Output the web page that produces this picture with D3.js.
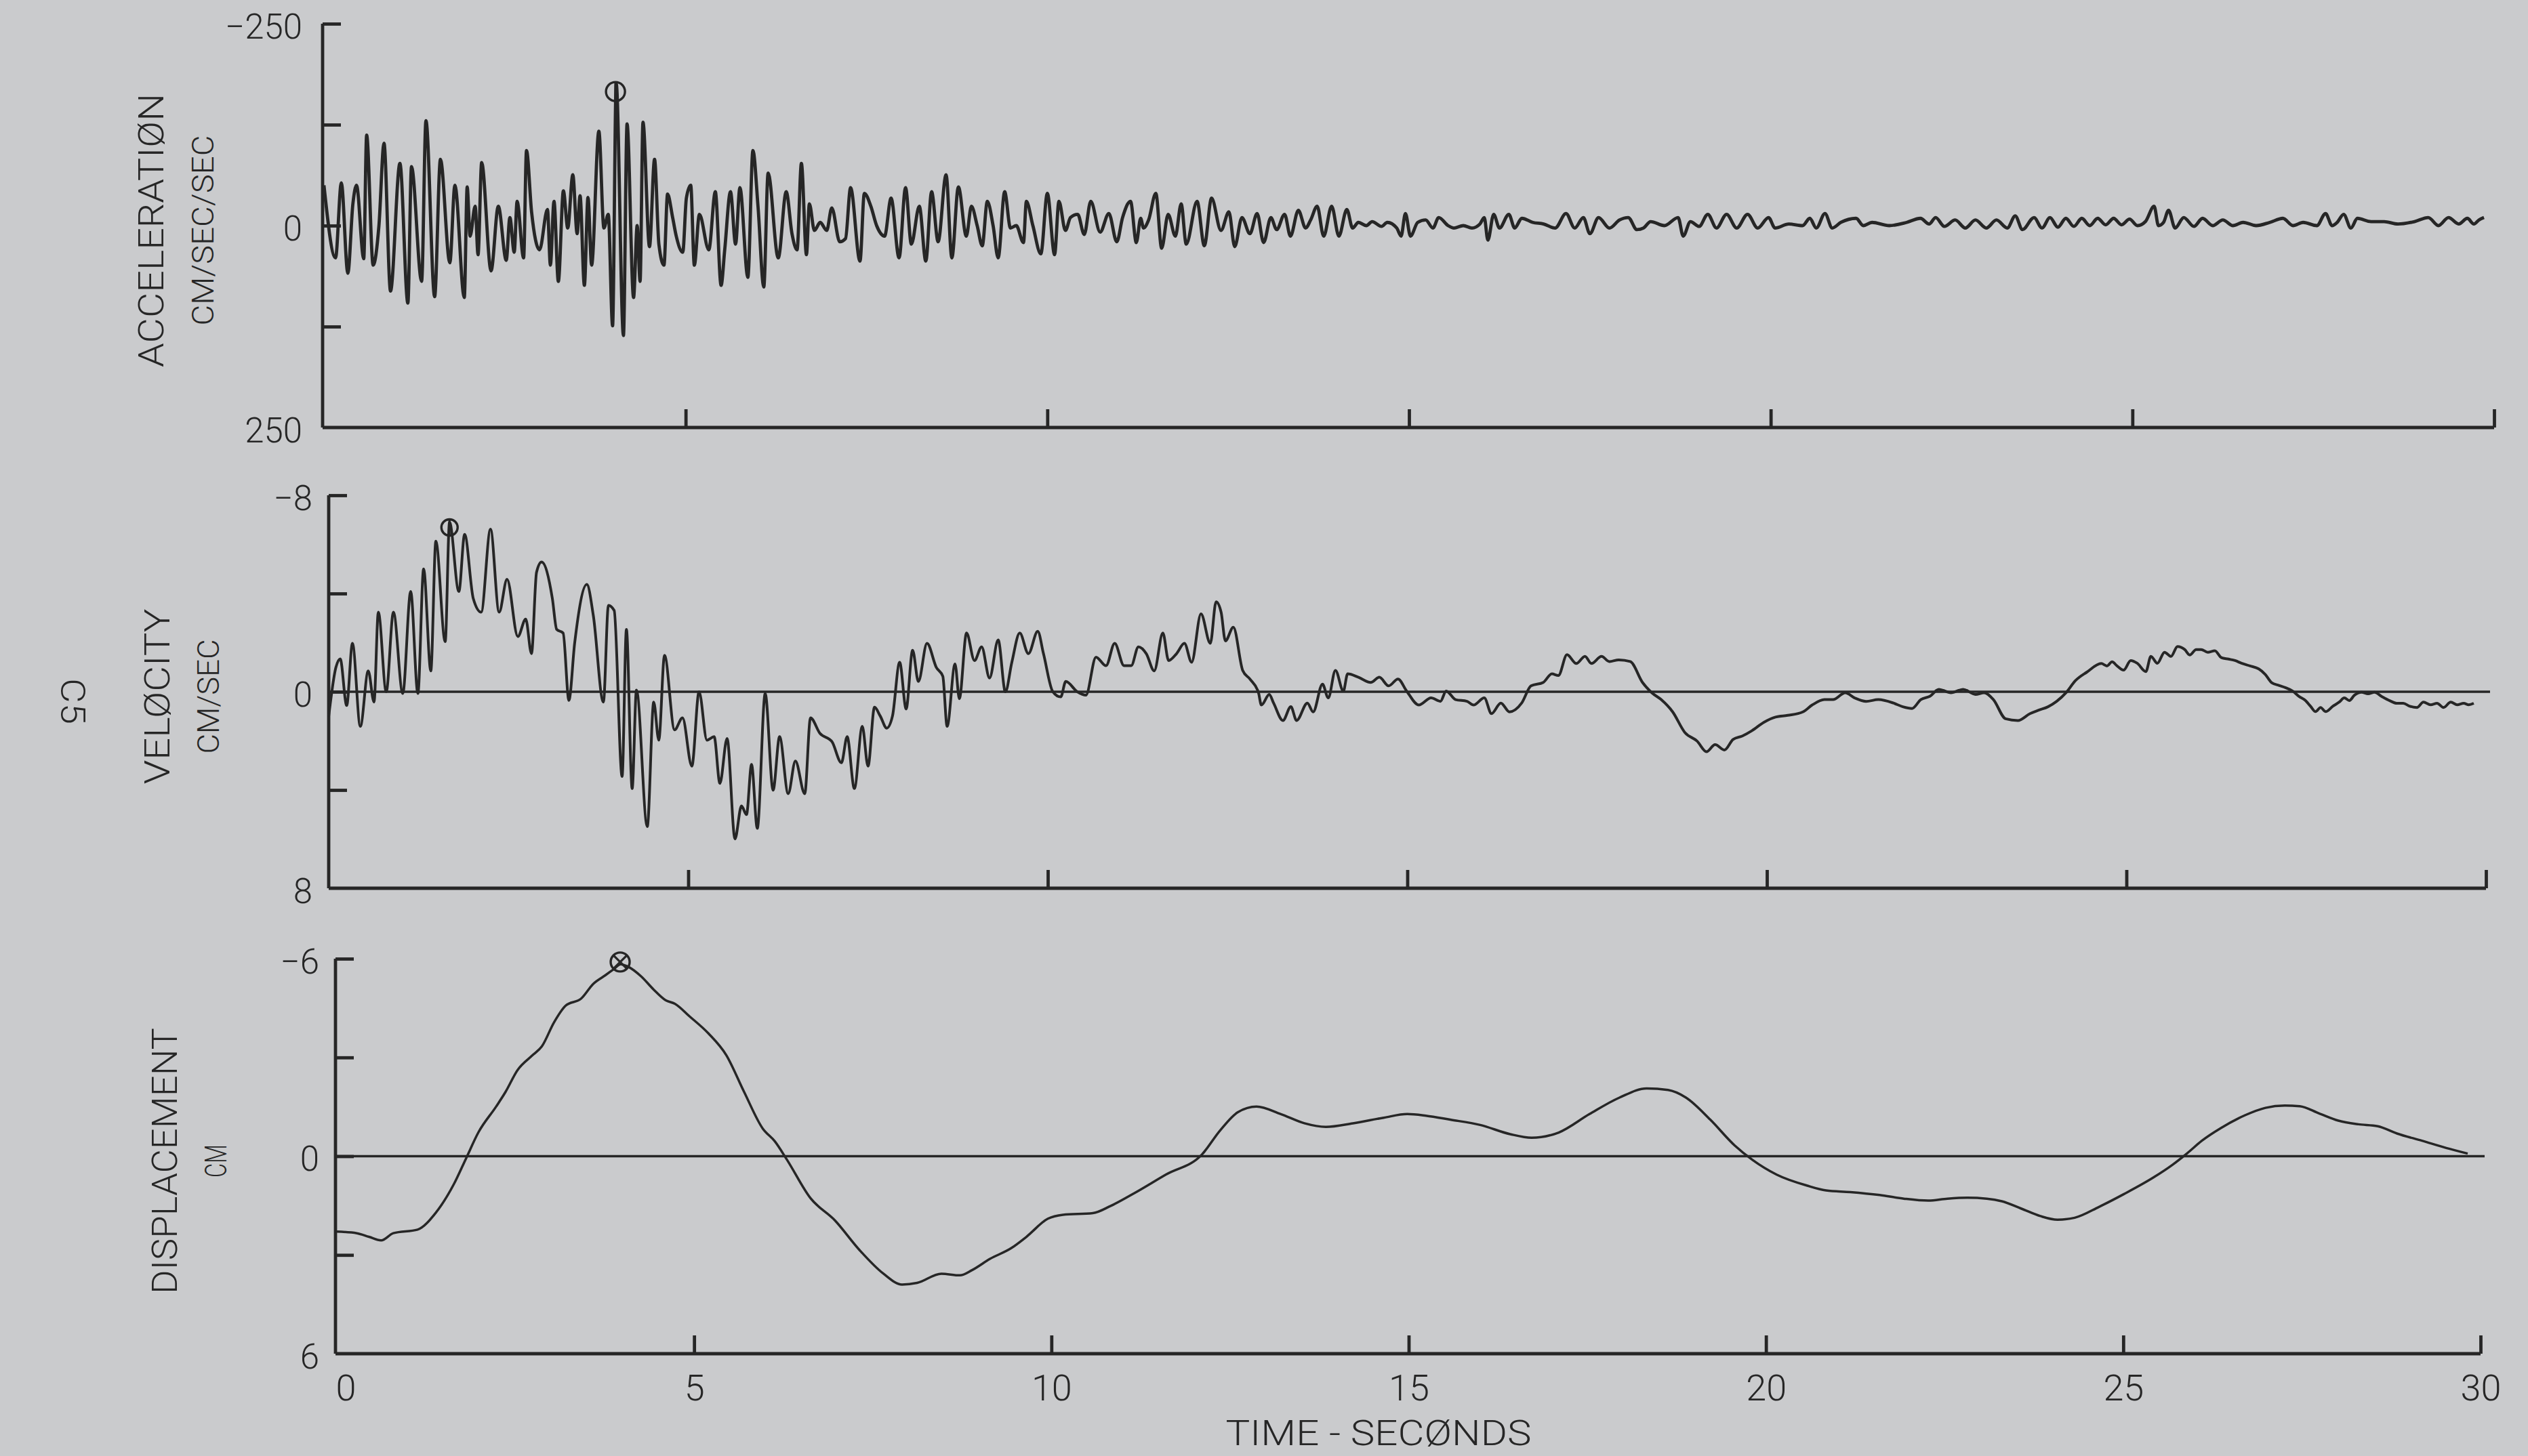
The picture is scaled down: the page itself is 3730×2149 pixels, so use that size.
<!DOCTYPE html>
<html>
<head>
<meta charset="utf-8">
<script src="https://cdn.jsdelivr.net/npm/d3@7"></script>
<style>
  html, body { margin: 0; padding: 0; background: #cacbcd; }
  svg { display: block; }
  text { font-family: Roboto, "DejaVu Sans", sans-serif; font-weight: 300; fill: #262626; }
</style>
</head>
<body>
<script>
// ---------------- DATA ----------------
const timeTicks = [0, 5, 10, 15, 20, 25, 30];
const accelTicks = [-250, -125, 0, 125, 250];
const accelLabels = [-250, 0, 250];
const velTicks = [-8, -4, 0, 4, 8];
const velLabels = [-8, 0, 8];
const dispTicks = [-6, -3, 0, 3, 6];
const dispLabels = [-6, 0, 6];

// [time s, acceleration cm/s/s]  (negative plotted upward)
const accel = [
[0.00,-50],[0.16,40],[0.24,-53],[0.33,59],[0.40,-27],[0.45,-50],[0.55,41],[0.59,-112],[0.68,49],[0.76,0],
[0.83,-102],[0.92,81],[1.05,-77],[1.16,96],[1.21,-73],[1.35,69],[1.41,-130],[1.53,88],[1.61,-82],[1.74,46],
[1.81,-50],[1.94,89],[1.98,-48],[2.02,13],[2.09,-24],[2.13,36],[2.18,-78],[2.31,56],[2.41,-24],[2.52,43],
[2.57,-10],[2.63,33],[2.67,-30],[2.76,40],[2.80,-93],[2.87,-17],[2.98,30],[3.09,-20],[3.13,49],[3.18,-30],
[3.24,69],[3.31,-43],[3.37,3],[3.44,-63],[3.50,10],[3.54,-37],[3.60,74],[3.65,-35],[3.70,49],[3.80,-117],
[3.87,3],[3.93,-14],[3.99,124],[4.04,-176],[4.14,136],[4.19,-126],[4.28,89],[4.33,0],[4.37,69],[4.41,-128],
[4.50,26],[4.57,-82],[4.63,23],[4.70,49],[4.75,-39],[4.82,-10],[4.87,13],[4.96,33],[5.01,-34],[5.07,-50],
[5.12,49],[5.19,-14],[5.32,30],[5.41,-42],
[5.49,74],[5.54,30],[5.62,-42],[5.69,23],[5.75,-47],[5.86,64],[5.93,-93],[6.00,-24],[6.08,76],[6.14,-65],
[6.28,40],[6.39,-42],[6.47,10],[6.54,30],[6.60,-77],[6.67,36],[6.71,-27],[6.78,6],[6.86,-4],[6.95,6],
[7.02,-22],[7.13,20],[7.21,16],[7.28,-47],[7.41,44],[7.47,-40],[7.56,-24],[7.64,0],[7.75,13],[7.84,-34],
[7.95,40],[8.04,-47],[8.12,23],[8.23,-24],[8.32,44],[8.40,-42],[8.49,20],[8.60,-63],[8.68,40],[8.77,-48],
[8.88,13],[8.95,-24],[9.03,0],[9.10,25],[9.17,-30],[9.25,0],[9.32,40],[9.41,-42],[9.49,3],[9.57,0],
[9.67,21],[9.71,-30],[9.80,0],[9.91,35],[10.00,-40],[10.10,36],[10.16,-30],[10.25,6],[10.32,-10],[10.42,-14],
[10.51,11],[10.60,-30],
[10.73,8],[10.85,-15],[10.96,20],[11.04,-10],[11.15,-30],[11.23,21],[11.29,-9],[11.33,3],[11.40,-7],[11.50,-40],
[11.58,28],[11.67,-14],[11.77,13],[11.85,-27],[11.92,23],[12.07,-30],[12.17,25],[12.27,-34],[12.40,6],[12.51,-17],
[12.59,26],[12.69,-10],[12.80,10],[12.90,-15],[12.99,21],[13.09,-10],[13.17,5],[13.28,-14],[13.36,13],[13.47,-19],
[13.57,3],[13.64,-7],[13.73,-24],[13.82,13],[13.93,-24],[14.03,13],[14.14,-20],[14.22,3],[14.30,-4],[14.41,0],
[14.49,-5],[14.62,1],[14.70,-4],[14.83,3],[14.89,13],[14.95,-15],[15.02,13],[15.12,-4],[15.23,-7],[15.33,3],
[15.41,-10],[15.54,0],[15.62,3],[15.75,0],[15.87,3],[15.98,-2],[16.04,-10],[16.09,18],[16.17,-14],[16.25,3],
[16.38,-14],[16.46,3],[16.56,-9],
[16.71,-4],[16.86,-2],[17.02,3],[17.17,-15],[17.29,3],[17.41,-10],[17.50,10],[17.62,-10],[17.77,3],[17.91,-7],
[18.03,-10],[18.15,5],[18.24,3],[18.34,-5],[18.53,0],[18.72,-10],[18.79,13],[18.89,-5],[19.01,1],[19.13,-14],
[19.25,3],[19.39,-14],[19.53,3],[19.68,-14],[19.82,3],[19.97,-10],[20.06,3],[20.25,-2],[20.44,0],[20.54,-9],
[20.63,3],[20.75,-15],[20.85,3],[20.97,-4],[21.18,-9],[21.28,0],[21.40,-4],[21.64,0],[21.88,-4],[22.07,-9],
[22.19,-2],[22.28,-10],[22.40,1],[22.55,-7],[22.69,3],[22.83,-7],[22.98,3],[23.12,-7],[23.27,3],[23.38,-12],
[23.48,5],[23.64,-10],
[23.75,3],[23.86,-10],[23.97,2],[24.08,-9],[24.19,1],[24.30,-9],[24.41,0],[24.52,-9],[24.63,-1],[24.74,-9],
[24.85,-1],[24.96,-8],[25.07,0],[25.18,-5],[25.30,-24],[25.36,0],[25.43,-4],[25.50,-19],[25.59,3],[25.71,-10],
[25.85,1],[25.97,-9],[26.11,0],[26.25,-7],[26.39,0],[26.53,-4],[26.71,0],[26.90,-4],[27.08,-9],[27.22,0],
[27.36,-4],[27.55,0],[27.67,-15],[27.76,0],[27.83,-4],[27.92,-14],[28.02,3],[28.11,-9],[28.30,-5],[28.48,-5],
[28.67,-2],[28.90,-5],[29.09,-10],[29.23,0],[29.37,-10],[29.51,-2],[29.63,-9],[29.72,-2],[29.79,-7],[29.86,-10]
];

// [time s, velocity cm/s]
const velocity = [
[0.00,1.0],[0.10,-0.99],[0.16,-1.34],[0.25,0.56],[0.33,-1.97],[0.44,1.41],[0.55,-0.85],[0.63,0.42],[0.69,-3.24],[0.80,0],
[0.90,-3.24],[1.03,0.07],[1.14,-4.08],[1.24,0.07],[1.32,-5.00],[1.42,-0.85],[1.49,-6.13],[1.62,-2.04],[1.68,-6.9],[1.81,-4.08],
[1.89,-6.41],[2.01,-3.80],[2.12,-3.24],[2.25,-6.62],[2.37,-3.24],[2.48,-4.58],[2.63,-2.25],[2.74,-2.96],[2.82,-1.55],[2.89,-4.86],
[2.96,-5.28],[3.11,-3.80],[3.17,-2.54],[3.26,-2.39],[3.34,0.35],[3.42,-1.97],[3.59,-4.37],[3.68,-3.10],[3.82,0.42],[3.89,-3.52],
[3.97,-3.31],[4.08,3.45],[4.14,-2.54],[4.22,3.94],[4.28,-0.07],[4.43,5.49],[4.52,0.42],[4.59,1.97],[4.67,-1.48],[4.81,1.55],
[4.92,1.06],[5.05,3.03],[5.15,0],[5.26,1.97],[5.36,1.83],[5.44,3.73],[5.54,1.90],[5.65,5.99],[5.74,4.65],[5.81,5.00],
[5.88,2.96],[5.96,5.56],[6.07,0.07],[6.18,4.01],[6.27,1.83],[6.39,4.15],[6.49,2.82],[6.62,4.15],[6.70,1.06],[6.83,1.69],
[7.00,2.04],[7.13,2.89],[7.21,1.83],[7.31,3.94],[7.42,1.41],[7.50,3.03],[7.59,0.63],[7.67,0.99],[7.76,1.48],[7.84,0.99],
[7.94,-1.20],[8.03,0.70],[8.12,-1.69],[8.20,-0.42],[8.32,-1.97],[8.45,-0.99],[8.54,-0.63],[8.60,1.41],[8.71,-1.13],[8.77,0.28],
[8.87,-2.39],[8.98,-1.27],[9.08,-1.83],[9.19,-0.56],[9.31,-2.11],[9.41,0],[9.50,-1.20],[9.61,-2.39],[9.73,-1.55],[9.86,-2.46],
[9.94,-1.55],[10.07,0],[10.18,0.21],[10.25,-0.42],[10.41,0],[10.53,0.14],[10.67,-1.41],[10.81,-1.06],[10.93,-1.97],[11.06,-1.06],
[11.16,-1.06],[11.26,-1.83],[11.37,-1.55],[11.48,-0.85],[11.60,-2.39],[11.68,-1.27],[11.79,-1.55],[11.90,-1.97],[12.00,-1.20],[12.13,-3.17],
[12.26,-1.97],[12.34,-3.66],[12.41,-3.24],
[12.47,-2.07],[12.58,-2.63],[12.71,-0.87],[12.81,-0.52],[12.93,0.04],[12.97,0.54],[13.08,0.11],[13.14,0.46],[13.27,1.17],[13.38,0.61],
[13.46,1.17],[13.61,0.46],[13.69,0.82],[13.82,-0.31],[13.90,0.25],[14.00,-0.87],[14.11,-0.03],[14.17,-0.73],[14.32,-0.59],[14.49,-0.38],
[14.61,-0.59],[14.74,-0.24],[14.87,-0.52],[14.99,-0.03],[15.16,0.54],[15.33,0.25],[15.46,0.39],[15.54,-0.03],[15.67,0.32],[15.83,0.39],
[15.92,0.54],[16.07,0.25],[16.17,0.89],[16.30,0.46],[16.42,0.82],[16.59,0.46],[16.72,-0.24],[16.89,-0.38],[17.01,-0.73],[17.10,-0.66],
[17.22,-1.51],[17.35,-1.15],[17.47,-1.44],[17.56,-1.15],[17.70,-1.44],[17.81,-1.23],[17.94,-1.30],[18.10,-1.23],[18.27,-0.38],[18.40,0.04],
[18.53,0.32],[18.69,0.82],[18.86,1.66],[19.03,2.01],[19.16,2.44],[19.28,2.15],[19.41,2.37],[19.53,1.94],[19.66,1.80],[19.79,1.59],
[19.96,1.24],[20.12,1.03],[20.29,0.96],[20.50,0.82],[20.63,0.54],[20.80,0.32],[20.92,0.32],[21.09,0.04],[21.22,0.25],[21.38,0.39],
[21.55,0.32],[21.76,0.46],[21.89,0.61],[22.02,0.68],[22.14,0.32],[22.27,0.18],[22.39,-0.10],[22.56,0.04],[22.73,-0.10],[22.90,0.11],
[23.02,0.04],[23.15,0.32],[23.32,1.10],[23.49,1.17],[23.66,0.89],[23.78,0.75],[23.91,0.61],[24.03,0.39],[24.16,0.04],[24.29,-0.45],
[24.45,-0.80],[24.65,-1.15],
[24.73,-1.05],[24.80,-1.22],[24.87,-1.05],[24.96,-0.88],[25.06,-1.27],[25.15,-1.16],[25.27,-0.82],[25.34,-1.44],[25.43,-1.16],[25.53,-1.61],
[25.62,-1.44],[25.71,-1.84],[25.81,-1.72],[25.88,-1.50],[25.97,-1.72],[26.04,-1.72],[26.13,-1.61],[26.23,-1.67],[26.32,-1.39],[26.42,-1.33],
[26.51,-1.27],[26.60,-1.16],[26.72,-1.05],[26.84,-0.93],[26.93,-0.71],[27.02,-0.37],[27.12,-0.26],[27.21,-0.17],[27.31,-0.03],[27.40,0.19],
[27.49,0.36],[27.56,0.59],[27.63,0.81],[27.70,0.64],[27.77,0.81],[27.87,0.59],[27.96,0.42],[28.03,0.25],[28.10,0.36],[28.17,0.14],
[28.27,0.02],[28.36,0.08],[28.45,0.02],[28.55,0.19],[28.66,0.36],[28.76,0.47],[28.85,0.47],[28.94,0.59],[29.04,0.64],[29.13,0.42],
[29.23,0.53],[29.32,0.47],[29.41,0.64],[29.51,0.42],[29.60,0.53],[29.69,0.47],[29.76,0.53],[29.83,0.47]
];

// [time s, displacement cm]
const displacement = [
[0.00,2.29],[0.28,2.34],[0.45,2.45],[0.62,2.56],[0.79,2.34],[1.13,2.23],[1.38,1.73],[1.64,0.84],[1.81,0.06],[1.98,-0.72],
[2.23,-1.51],[2.36,-1.95],[2.53,-2.62],[2.74,-3.07],[2.87,-3.34],[3.04,-4.07],[3.20,-4.57],[3.42,-4.79],[3.59,-5.24],[3.76,-5.50],
[3.88,-5.69],[3.97,-5.83],[4.09,-5.74],[4.26,-5.46],[4.43,-5.07],[4.60,-4.74],[4.73,-4.63],[4.94,-4.24],[5.20,-3.73],[5.45,-3.07],
[5.70,-1.95],[5.96,-0.84],[6.13,-0.45],[6.30,0.11],[6.63,1.28],[6.97,1.95],[7.31,2.84],[7.65,3.57],[7.91,3.90],[8.12,3.85],
[8.46,3.57],[8.72,3.62],[8.89,3.46],[9.14,3.12],[9.44,2.79],[9.65,2.45],[9.95,1.90],[10.16,1.78],[10.58,1.73],[10.83,1.51],
[11.17,1.11],[11.60,0.56],[12.11,-0.06],[12.36,-0.78],[12.61,-1.34],[12.87,-1.51],[13.21,-1.28],[13.54,-1.00],[13.84,-0.89],[14.22,-1.00],
[14.65,-1.17],[14.98,-1.28],[15.24,-1.23],[15.58,-1.11],[16.00,-0.95],[16.42,-0.67],[16.72,-0.56],[17.10,-0.72],[17.53,-1.28],[17.95,-1.78],
[18.33,-2.06],[18.63,-2.01],[18.88,-1.78],[19.22,-1.11],[19.56,-0.33],[19.81,0.11],[20.15,0.56],[20.57,0.89],[20.84,1.04],[21.18,1.09],
[21.59,1.18],[21.93,1.29],[22.27,1.35],[22.54,1.29],[22.82,1.26],[23.09,1.29],[23.30,1.37],[23.57,1.59],[23.84,1.82],[24.08,1.93],
[24.32,1.87],[24.66,1.54],[25.01,1.15],[25.42,0.65],[25.69,0.26],[25.89,-0.08],[26.10,-0.47],[26.37,-0.86],[26.71,-1.25],[26.99,-1.47],
[27.26,-1.54],[27.47,-1.52],[27.74,-1.30],[28.01,-1.08],[28.29,-0.97],[28.56,-0.91],[28.83,-0.69],[29.18,-0.47],[29.52,-0.25],[29.82,-0.08]
];

// peak markers [time, value]
const accelPeak = [4.03, -166];
const velPeak = [1.68, -6.69];
const dispPeak = [3.965, -5.9];

// ---------------- DRAWING ----------------
const W = 3730, H = 2149;
const INK = "#262626";
const svg = d3.select("body").append("svg").attr("width", W).attr("height", H);
svg.append("rect").attr("width", W).attr("height", H).attr("fill", "#cacbcd");

const panels = [
  { data: accel, ticks: accelTicks, labels: accelLabels, peak: accelPeak, mark: "phi",
    x: d3.scaleLinear().domain([0, 30]).range([478, 3680]),
    y: d3.scaleLinear().domain([-250, 250]).range([35, 631]),
    ax: 476, zero: false, lw: 4.8, pad: 30,
    title: "ACCELERATIØN", unit: "CM/SEC/SEC", tx: 223, ux: 300, tlen: 404, ulen: 281 },
  { data: velocity, ticks: velTicks, labels: velLabels, peak: velPeak, mark: "phi",
    x: d3.scaleLinear().domain([0, 30]).range([485, 3668]),
    y: d3.scaleLinear().domain([-8, 8]).range([731, 1311]),
    ax: 485, zero: true, lw: 4.0, pad: 24,
    title: "VELØCITY", unit: "CM/SEC", tx: 232, ux: 308, tlen: 259, ulen: 169 },
  { data: displacement, ticks: dispTicks, labels: dispLabels, peak: dispPeak, mark: "cross",
    x: d3.scaleLinear().domain([0, 30]).range([497, 3660]),
    y: d3.scaleLinear().domain([-6, 6]).range([1415, 1998]),
    ax: 495, zero: true, lw: 3.5, pad: 24,
    title: "DISPLACEMENT", unit: "CM", tx: 243, ux: 319, tlen: 393, ulen: 49 }
];

panels.forEach((p, i) => {
  const g = svg.append("g");
  const yBot = p.y.range()[1];

  // left axis with inward ticks
  const yAxis = d3.axisRight(p.y).tickValues(p.ticks.slice(0, -1)).tickSizeInner(27).tickSizeOuter(0).tickFormat("");
  const ya = g.append("g").attr("transform", `translate(${p.ax},0)`).call(yAxis);
  ya.select(".domain").attr("d", `M0,${p.y.range()[0]}V${yBot}`);
  ya.selectAll("path, line").attr("stroke", INK).attr("stroke-width", 4.8);

  // bottom axis with upward ticks
  const xAxis = d3.axisBottom(p.x).tickValues(timeTicks.slice(1)).tickSizeInner(-27).tickSizeOuter(0).tickFormat("");
  const xa = g.append("g").attr("transform", `translate(0,${yBot})`).call(xAxis);
  xa.select(".domain").attr("d", `M${p.ax},0H${p.x(30)}`);
  xa.selectAll("path, line").attr("stroke", INK).attr("stroke-width", 4.8);

  // y labels
  const yl = g.append("g").attr("transform", `translate(${p.ax},0)`)
    .call(d3.axisLeft(p.y).tickValues(p.labels).tickSize(0).tickPadding(p.pad).tickFormat(d3.format("d")));
  yl.select(".domain").remove();
  yl.selectAll("text").attr("font-size", 51).attr("dy", "0.42em")
    .style("font-family", "Roboto, 'DejaVu Sans', sans-serif").style("font-weight", 300).attr("fill", INK);

  // zero line
  if (p.zero) {
    g.append("line").attr("x1", p.ax).attr("x2", p.x(30) + 6)
      .attr("y1", p.y(0)).attr("y2", p.y(0)).attr("stroke", INK).attr("stroke-width", 3.4);
  }

  // trace
  const line = d3.line().x(d => p.x(d[0])).y(d => p.y(d[1])).curve(d3.curveMonotoneX);
  g.append("path").datum(p.data).attr("d", line).attr("fill", "none")
    .attr("stroke", INK).attr("stroke-width", p.lw).attr("stroke-linejoin", "round");

  // peak marker
  const cx = p.x(p.peak[0]), cy = p.y(p.peak[1]);
  const r = i === 1 ? 12 : 14;
  g.append("circle").attr("cx", cx).attr("cy", cy).attr("r", r)
    .attr("fill", "none").attr("stroke", INK).attr("stroke-width", 3.4);
  if (p.mark === "phi") {
    g.append("line").attr("x1", cx).attr("x2", cx).attr("y1", cy - r).attr("y2", cy + r)
      .attr("stroke", INK).attr("stroke-width", 3.2);
  } else {
    const k = r * 0.7;
    g.append("path").attr("d", `M${cx - k},${cy - k}L${cx + k},${cy + k}M${cx + k},${cy - k}L${cx - k},${cy + k}`)
      .attr("stroke", INK).attr("stroke-width", 3.2);
  }

  // titles
  const cyT = (p.y.range()[0] + yBot) / 2 + 7;
  g.append("text").attr("transform", `translate(${p.tx},${cyT}) rotate(-90)`)
    .attr("text-anchor", "middle").attr("dominant-baseline", "central")
    .attr("font-size", 52).attr("textLength", p.tlen).attr("lengthAdjust", "spacingAndGlyphs").text(p.title);
  g.append("text").attr("transform", `translate(${p.ux},${cyT}) rotate(-90)`)
    .attr("text-anchor", "middle").attr("dominant-baseline", "central")
    .attr("font-size", 44).attr("textLength", p.ulen).attr("lengthAdjust", "spacingAndGlyphs").text(p.unit);
});

// time labels under the bottom panel
const pd = panels[2];
const tl = svg.append("g").attr("transform", `translate(0,${pd.y.range()[1]})`)
  .call(d3.axisBottom(pd.x).tickValues(timeTicks).tickSize(0).tickPadding(31).tickFormat(d3.format("d")));
tl.select(".domain").remove();
tl.selectAll("text").attr("font-size", 54)
  .style("font-family", "Roboto, 'DejaVu Sans', sans-serif").style("font-weight", 300).attr("fill", INK)
  .attr("dx", d => d === 0 ? 13 : 0);

svg.append("text").attr("x", 2034).attr("y", 2115).attr("text-anchor", "middle")
  .attr("dominant-baseline", "central").attr("font-size", 52)
  .attr("textLength", 451).attr("lengthAdjust", "spacingAndGlyphs").text("TIME - SECØNDS");

// page number
svg.append("text").attr("transform", "translate(107,1035) rotate(90)")
  .attr("text-anchor", "middle").attr("dominant-baseline", "central")
  .attr("font-size", 50).attr("textLength", 68).attr("lengthAdjust", "spacingAndGlyphs").text("C5");
</script>
</body>
</html>
